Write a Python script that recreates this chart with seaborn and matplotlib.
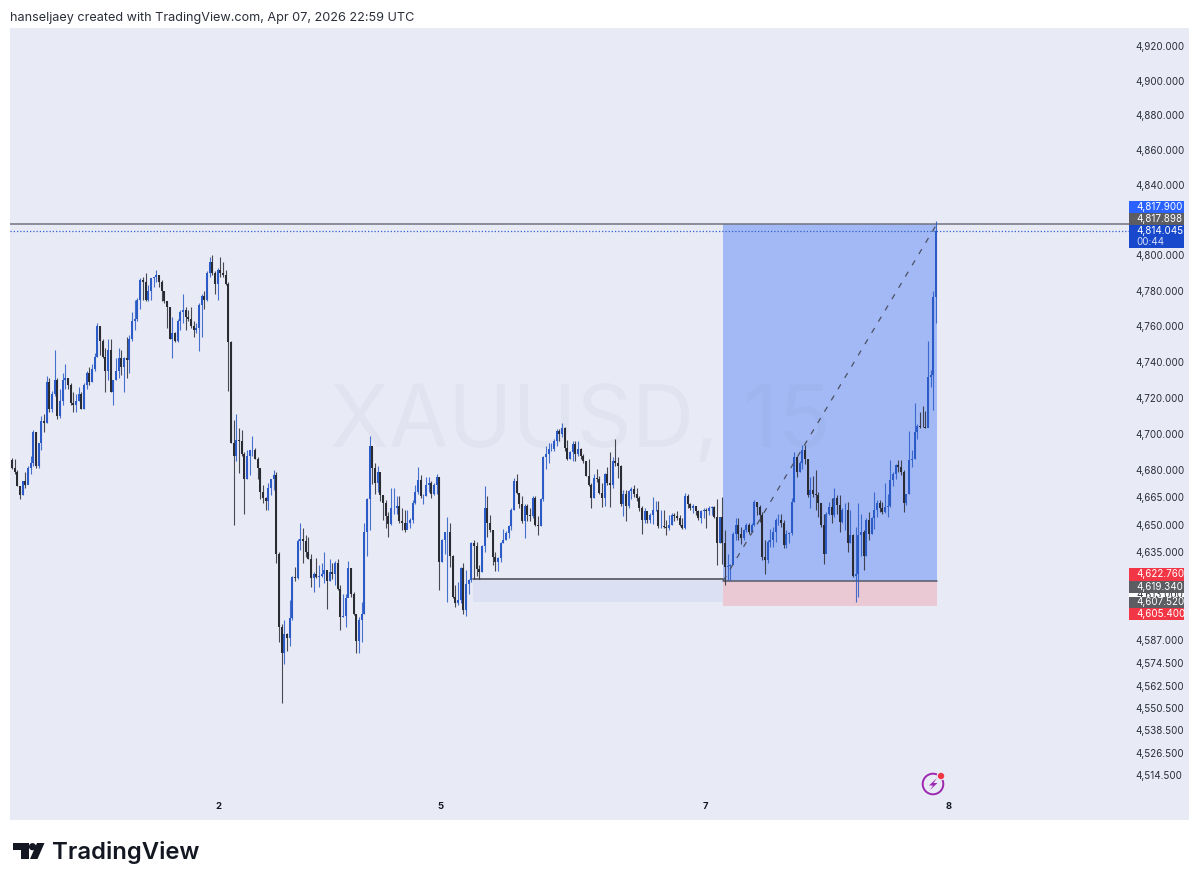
import matplotlib
matplotlib.use("Agg")
import matplotlib.pyplot as plt
import numpy as np
import pandas as pd
import seaborn as sns
from matplotlib.patches import Circle, Polygon, Rectangle
from matplotlib.ticker import FixedLocator, FixedFormatter, NullLocator
from matplotlib.transforms import Affine2D

# 15 minute XAUUSD candles
first_open = 4685.5
closes = [
    4681, 4679, 4671, 4666, 4674, 4672, 4681, 4684, 4701, 4682,
    4695, 4707, 4706, 4729, 4714, 4722, 4730, 4710, 4718, 4730,
    4731, 4727, 4717, 4716, 4718, 4722, 4714, 4727, 4734, 4729,
    4736, 4743, 4760, 4752, 4743, 4735, 4747, 4723, 4730, 4735,
    4742, 4737, 4742, 4741, 4753, 4763, 4764, 4775, 4786, 4785,
    4775, 4780, 4787, 4788, 4789, 4785, 4780, 4774, 4771, 4753,
    4756, 4752, 4763, 4768, 4769, 4765, 4764, 4760, 4758, 4759,
    4772, 4777, 4775, 4790, 4796, 4790, 4784, 4792, 4790, 4789,
    4784, 4751, 4695, 4688, 4696.5, 4696, 4689, 4675, 4688, 4691,
    4691, 4686, 4681, 4668, 4664.5, 4663, 4670, 4675, 4677, 4634,
    4594, 4580, 4590.4, 4588, 4599, 4621.5, 4620.6, 4641, 4642, 4641,
    4635, 4631, 4620.6, 4623, 4621.5, 4622, 4623, 4625, 4619, 4624,
    4623, 4629, 4614.5, 4599.5, 4600, 4610, 4626, 4612, 4601.4, 4586.7,
    4597.7, 4601.4, 4646, 4664, 4693, 4681, 4672.7, 4679, 4666.3, 4661.8,
    4654.5, 4650.4, 4659, 4659, 4660, 4651.7, 4651, 4647, 4650.8, 4652.6,
    4661.8, 4668, 4674.6, 4665.4, 4665.4, 4671.8, 4672.7, 4667, 4671.8, 4676,
    4629.7, 4641.6, 4645.7, 4645.7, 4632.5, 4610.5, 4607, 4608.7, 4626, 4603.2,
    4617.5, 4619.4, 4639.7, 4638, 4625.8, 4624, 4638, 4659, 4650.8, 4647,
    4632.3, 4629.5, 4631.4, 4639.7, 4641.6, 4645.3, 4649, 4658.2, 4674, 4667.5,
    4661, 4651.8, 4660, 4655.4, 4654.5, 4664.7, 4650, 4649, 4663.8, 4687,
    4688.8, 4691.5, 4691.5, 4696, 4701.7, 4699.9, 4703.5, 4692.4, 4686, 4689.7,
    4694.3, 4688.8, 4691.5, 4687.8, 4685, 4676.7, 4672, 4664.7, 4675.8, 4674.9,
    4667.5, 4664.7, 4677.6, 4673, 4672, 4685, 4684, 4682, 4661, 4666.5,
    4660, 4668.4, 4669.3, 4666.5, 4664.7, 4659, 4652.7, 4657.3, 4652.7, 4655.4,
    4658.2, 4658.2, 4649, 4649, 4648.6, 4648, 4650, 4655.4, 4654.5, 4653.6,
    4650, 4648, 4665.6, 4661, 4659, 4660, 4657.3, 4653.6, 4657.3, 4658.2,
    4657.3, 4659, 4659.5, 4654, 4640, 4654.3, 4639.6, 4626.8, 4627.5, 4627.7,
    4645, 4649.7, 4645, 4642.4, 4647, 4649.7, 4646, 4649.7, 4662.5, 4659.7,
    4655, 4632.3, 4630.5, 4640.5, 4641.4, 4646, 4652.4, 4652.4, 4650.6, 4638.7,
    4645, 4645.5, 4662.5, 4687, 4679, 4684, 4690.9, 4686, 4666, 4668.9,
    4667, 4666, 4661.6, 4649.7, 4634, 4656, 4659.7, 4655, 4664.3, 4660.6,
    4651.5, 4657.9, 4657.9, 4639.6, 4644, 4621.7, 4623, 4644, 4646, 4633,
    4652.4, 4645, 4653.3, 4657.9, 4661.6, 4658.8, 4657, 4659.7, 4660, 4674.4,
    4678, 4682.6, 4681.7, 4679, 4661.6, 4666.7, 4685.4, 4686.3, 4700.9, 4704.6,
    4704, 4703.8, 4703, 4731.7, 4733, 4776.5, 4814.045,
]
highs = [
    4686.5, 4686, 4680, 4671, 4674, 4679, 4682, 4688, 4702, 4701,
    4695, 4710, 4711, 4732, 4731, 4724, 4747, 4731, 4725, 4734,
    4739, 4731, 4728, 4723, 4722, 4726, 4723, 4728, 4735, 4737,
    4739, 4745, 4762, 4760, 4753, 4748, 4753, 4753, 4730, 4742,
    4748, 4747, 4743, 4754, 4755, 4768, 4775, 4776, 4787, 4788,
    4790, 4783, 4787, 4788, 4792, 4789, 4786, 4780, 4774, 4771,
    4765, 4757, 4764, 4769, 4778, 4771, 4769, 4771, 4763, 4762,
    4773, 4778, 4780, 4791, 4799, 4800, 4791, 4793, 4799, 4796,
    4792, 4785, 4752, 4707.5, 4711, 4703, 4702, 4690, 4691, 4691,
    4699, 4692, 4687, 4681, 4672, 4665, 4673, 4675, 4680, 4679,
    4635, 4596, 4598, 4591, 4609, 4622, 4627, 4642, 4651, 4648,
    4644, 4643, 4634, 4624, 4631.5, 4628, 4629, 4635, 4625, 4631,
    4629, 4630, 4631, 4617, 4612, 4612, 4630, 4626, 4613, 4601.4,
    4599.5, 4607.8, 4650.8, 4664.5, 4699, 4693, 4684, 4682, 4675, 4666,
    4663.6, 4657, 4670, 4670, 4665.4, 4665.4, 4659, 4658, 4658, 4653.5,
    4663.6, 4672, 4681.5, 4677, 4667, 4676.4, 4676.4, 4673.7, 4672.7, 4677.9,
    4676, 4642, 4646, 4654, 4650.8, 4633.4, 4617, 4618.8, 4627, 4628.8,
    4625, 4620, 4640.6, 4641.6, 4640.6, 4627.7, 4638.8, 4671, 4665.6, 4655.4,
    4647, 4635, 4632.3, 4640.6, 4647.7, 4646.2, 4650, 4659, 4675.8, 4678,
    4667.5, 4665.6, 4661, 4661, 4659, 4665.6, 4665.6, 4654.5, 4664.7, 4687.8,
    4693.4, 4695.2, 4695.2, 4697, 4702.6, 4702.6, 4705.8, 4703.9, 4696.5, 4690.6,
    4696, 4695.8, 4695.8, 4692.4, 4688.8, 4685, 4686, 4673, 4677.6, 4680.4,
    4676.7, 4673, 4678.6, 4681.4, 4689.7, 4687, 4697, 4687, 4683, 4669,
    4669, 4669, 4670.6, 4671.7, 4670, 4665.6, 4660, 4659, 4656.4, 4656.4,
    4665, 4662.8, 4662.8, 4658.2, 4658.2, 4652.7, 4655.4, 4656.4, 4656.4, 4657.3,
    4655.4, 4653.6, 4667.5, 4666.5, 4662, 4661, 4660, 4658.2, 4658.2, 4659,
    4659, 4660, 4660, 4660, 4663.8, 4654.3, 4665, 4647, 4634, 4628.6,
    4646, 4653.3, 4653.3, 4648.8, 4647.8, 4650.6, 4650.6, 4650.6, 4663.4, 4662.5,
    4660.6, 4657, 4641.4, 4641.4, 4647.8, 4648.8, 4653.3, 4656, 4656, 4652.4,
    4647, 4646, 4664.3, 4690, 4687, 4685, 4693.6, 4693.6, 4686, 4676,
    4676.6, 4679.9, 4668, 4661.6, 4656, 4657, 4662.5, 4664.3, 4670.3, 4666,
    4666, 4658.8, 4661.6, 4662.5, 4657.9, 4645, 4648.8, 4661.6, 4656, 4647,
    4653.3, 4657, 4654.3, 4668, 4663.4, 4663.4, 4662.5, 4672.6, 4667, 4685.7,
    4679, 4683.5, 4685.4, 4685.4, 4679.9, 4667, 4701.8, 4690.9, 4717.4, 4705.5,
    4712, 4715.6, 4712.8, 4751.5, 4735.7, 4780, 4819.5,
]
lows = [
    4680.8, 4678, 4671, 4664, 4666, 4670, 4673, 4678, 4682, 4681,
    4681, 4691, 4701, 4706, 4712, 4712, 4721, 4708, 4709, 4716,
    4725, 4725, 4716, 4712, 4712, 4718, 4714, 4714, 4725, 4727,
    4729, 4735, 4743, 4744, 4742, 4723, 4730, 4723, 4716, 4730,
    4731, 4733, 4723, 4731, 4734, 4752, 4758, 4763, 4770, 4775,
    4774, 4774, 4775, 4782, 4785, 4782, 4774, 4773, 4759, 4753,
    4742, 4751, 4751, 4758, 4762, 4758, 4763, 4759, 4754, 4756,
    4746, 4754, 4770, 4774, 4788, 4789, 4778, 4775, 4788, 4788,
    4783, 4724, 4695, 4650, 4685, 4678.6, 4688, 4656, 4675, 4677,
    4688, 4686, 4675, 4664, 4662, 4658, 4658, 4666, 4669, 4629,
    4586, 4553, 4574, 4581, 4584, 4598, 4619, 4620, 4636, 4629,
    4632, 4631, 4616, 4613, 4620.6, 4615.6, 4621.5, 4618, 4604, 4619,
    4620, 4617, 4614, 4592.6, 4599.5, 4594, 4612, 4610.5, 4600.5, 4580,
    4580, 4586, 4601.4, 4632.5, 4647, 4672.4, 4667, 4667.6, 4662.7, 4652.6,
    4648, 4643, 4650, 4656, 4656, 4651, 4647, 4645.7, 4648, 4648,
    4651, 4661.4, 4667, 4664.5, 4661.4, 4665.4, 4668, 4664.5, 4666, 4667,
    4614, 4629.7, 4634, 4607.8, 4627, 4609.6, 4605, 4606, 4607, 4601.4,
    4600, 4612, 4618.5, 4620.3, 4622, 4620.3, 4624, 4635, 4643.4, 4646,
    4627.7, 4624.4, 4624.4, 4629.5, 4639.7, 4641.6, 4642.5, 4647, 4658.2, 4666.5,
    4659, 4650.8, 4642.5, 4651.8, 4651.8, 4653.6, 4649, 4644, 4649, 4662.8,
    4680.4, 4684, 4690.6, 4690.6, 4693.4, 4696, 4698, 4690.6, 4685.4, 4686,
    4684.7, 4684.7, 4687.8, 4686, 4684, 4676.7, 4671, 4659, 4664.7, 4673.6,
    4666.5, 4659.5, 4660, 4672, 4659.5, 4670, 4682, 4675.8, 4660, 4654.5,
    4651.8, 4659, 4663.8, 4665, 4662.8, 4657.3, 4644.7, 4650.8, 4650.8, 4650.8,
    4650.3, 4657.3, 4648, 4648, 4648, 4644.3, 4647, 4650, 4651.8, 4652.7,
    4649, 4647.7, 4647.7, 4659, 4658.2, 4656.4, 4655.4, 4652.7, 4650.8, 4653.6,
    4648, 4655.4, 4655.4, 4653.6, 4628, 4640, 4628.6, 4616.7, 4619.5, 4619.5,
    4634, 4641.4, 4641.4, 4639.2, 4641.4, 4646, 4645, 4646, 4649, 4655,
    4651.5, 4630.5, 4622.8, 4629, 4637.8, 4637.8, 4640.5, 4649.7, 4648.8, 4636.9,
    4636.9, 4639.6, 4644.2, 4662.5, 4676, 4679, 4680.8, 4683.5, 4665, 4658.8,
    4665, 4657.9, 4654.3, 4648.8, 4628.6, 4647, 4655, 4650.6, 4654.3, 4656,
    4646, 4650.6, 4647, 4635, 4639.6, 4621.3, 4607.6, 4610.3, 4633, 4625,
    4633, 4641.4, 4645, 4647.8, 4654.3, 4657, 4656, 4656.4, 4653.9, 4659.7,
    4671, 4675.3, 4679, 4677, 4657, 4660.6, 4667, 4681.7, 4686.3, 4697,
    4703, 4703.7, 4703, 4705.5, 4726, 4713, 4762,
]

price_ticks = [4920, 4900, 4880, 4860, 4840, 4800, 4780, 4760, 4740, 4720, 4700,
               4680, 4665, 4650, 4635, 4587, 4574.5, 4562.5, 4550.5, 4538.5,
               4526.5, 4514.5]
day_ticks = [77.3, 160.6, 259.6, 350.7]
day_labels = ["2", "5", "7", "8"]

target = 4817.9
stop = 4605.4
entry = 4619.34
last_price = 4814.045
bid_line = 4817.898
level = 4620.2
level_low = 4607.52
level_start, trade_start, trade_end = 172.6, 266.4, 346.4

BG = "#e8eaf6"
BLUE = "#2a5bc6"
BLACK = "#2b2c33"
FONT = ["Inter", "DejaVu Sans"]

sns.set_theme(style="white")
plt.rcParams["font.family"] = FONT


def candle_frame(first, second, direction):
    n = len(first)
    return pd.DataFrame({
        "i": np.repeat(np.arange(n), 2),
        "price": np.column_stack([first, second]).ravel(),
        "direction": np.repeat(direction, 2),
    })


closes_arr = np.array(closes, dtype=float)
opens_arr = np.concatenate([[first_open], closes_arr[:-1]])
direction = np.where(closes_arr >= opens_arr, "up", "down")
palette = {"up": BLUE, "down": BLACK}

fig = plt.figure(figsize=(12, 8.84), dpi=100, facecolor="white")
ax = fig.add_axes([10 / 1200, 64 / 884, 1179 / 1200, 792 / 884], facecolor=BG)
ax.set_yscale("log")

ax.fill_between([trade_start, trade_end], entry, target, color="#a3b9f6", lw=0, zorder=1)
ax.fill_between([trade_start, trade_end], stop, entry, color="#eac8d4", lw=0, zorder=1)
ax.fill_between([level_start, trade_start], level_low, level, color="#dbe1f3", lw=0, zorder=1)

ax.text(567 / 1.0, 4700, "", zorder=0)
ax.text(0.484, 0.5, "XAUUSD, 15", transform=ax.transAxes, ha="center", va="center",
        fontsize=62, color="#5a5f80", alpha=0.045, zorder=1.5,
        fontfamily=["Inter", "DejaVu Sans"])

sns.lineplot(data=candle_frame(lows, highs, direction), x="i", y="price", units="i",
             hue="direction", palette=palette, estimator=None, sort=False, errorbar=None,
             legend=False, linewidth=0.8, alpha=0.85, solid_capstyle="butt", ax=ax, zorder=3)
sns.lineplot(data=candle_frame(opens_arr, closes_arr, direction), x="i", y="price", units="i",
             hue="direction", palette=palette, estimator=None, sort=False, errorbar=None,
             legend=False, linewidth=1.45, solid_capstyle="butt", ax=ax, zorder=3.1)

ax.plot([-0.75, 419], [bid_line, bid_line], color="#70737f", lw=1.1, zorder=2.6)
ax.plot([-0.75, 419], [last_price, last_price], color="#2e5fd0", lw=0.9, ls=(0, (1, 1.6)), zorder=2.6)
ax.plot([level_start, trade_start], [level, level], color="#5d5f68", lw=1.3, zorder=2.6)
ax.plot([trade_start, trade_end], [entry, entry], color="#555a66", lw=1.1, zorder=2.6)
ax.plot([trade_start, trade_end], [entry, target], color="#4c5060", lw=0.9,
        ls=(0, (4.5, 6)), zorder=3.2)

ax.set_xlim(-0.75, 440.8)
ax.set_ylim(4490.7, 4930.5)
ax.set_xlabel("")
ax.set_ylabel("")
for spine in ax.spines.values():
    spine.set_visible(False)

ax.yaxis.set_major_locator(FixedLocator(price_ticks))
ax.yaxis.set_major_formatter(FixedFormatter([f"{p:,.3f}" for p in price_ticks]))
ax.yaxis.set_minor_locator(NullLocator())
ax.yaxis.tick_right()
ax.tick_params(axis="y", which="major", length=0, pad=-38.5, labelsize=7.1, labelcolor="#2a2e39")
ax.set_xticks(day_ticks)
ax.set_xticklabels(day_labels, fontweight="bold")
ax.tick_params(axis="x", length=0, pad=-13, labelsize=6.8, labelcolor="#131722")

# everything from here on is placed in picture pixels, y going down
pix = Affine2D().scale(1 / 1200, -1 / 884).translate(0, 1) + fig.transFigure


def tag(top, bottom, color, label=None, sub=None):
    fig.add_artist(Rectangle((1129, top), 55, bottom - top, transform=pix, color=color, lw=0, zorder=5))
    if label:
        mid = (top + bottom) / 2 if sub is None else top + 6.5
        fig.text(1136, mid, label, transform=pix, color="white", fontsize=7.1, va="center", zorder=6)
    if sub:
        fig.text(1136, top + 17, sub, transform=pix, color="#d5def8", fontsize=7.1, va="center", zorder=6)


fig.add_artist(Rectangle((1129, 592), 55, 5, transform=pix, color="white", lw=0, zorder=3))
fig.text(1136, 594.5, "4,613.000", transform=pix, color="#2a2e39", fontsize=7.1, va="center", zorder=4)
tag(201, 213, "#2962ff", "4,817.900")
tag(213, 225, "#5c5d62", "4,817.898")
tag(225, 248, "#1848cc", "4,814.045", "00:44")
tag(568, 580.5, "#f23645", "4,622.760")
tag(580.5, 592.5, "#5c5d62", "4,619.340")
tag(596.5, 608, "#5c5d62", "4,607.520")
tag(608, 620, "#f23645", "4,605.400")

fig.text(10, 18, "hanseljaey created with TradingView.com, Apr 07, 2026 22:59 UTC",
         transform=pix, fontsize=9.1, color="#2a2e39", va="center")

# logo
fig.add_artist(Polygon([(13, 843), (29, 843), (29, 859), (21, 859), (21, 850), (13, 850)],
                       transform=pix, color="#131722", lw=0))
fig.add_artist(Circle((32.5, 846.7), 3.6, transform=pix, color="#131722", lw=0))
fig.add_artist(Polygon([(37, 843), (44.5, 843), (37.5, 859), (30, 859)], transform=pix,
                       color="#131722", lw=0))
fig.text(52, 852, "TradingView", transform=pix, fontsize=17.2, fontweight="semibold",
         color="#131722", va="center")

# alert badge
fig.add_artist(Circle((933, 784), 10.3, transform=pix, fill=False, ec="#9c27b0", lw=1.4, zorder=5))
fig.add_artist(Polygon([(937, 778), (929, 785.5), (933, 785.5), (930, 790), (937.5, 783), (933.5, 783)],
                       transform=pix, color="#9c27b0", lw=0, zorder=5))
fig.add_artist(Circle((941, 776), 4.4, transform=pix, color=BG, lw=0, zorder=5.5))
fig.add_artist(Circle((941, 776), 3.2, transform=pix, color="#f23645", lw=0, zorder=6))

fig.savefig("out.png", dpi=100, facecolor="white")
